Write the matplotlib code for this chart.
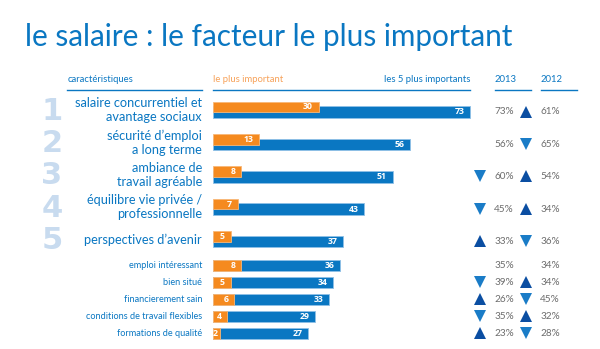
import numpy as np
import matplotlib
matplotlib.use('Agg')
import matplotlib.pyplot as plt

plt.rcParams['font.family'] = ['Lato', 'DejaVu Sans']

# data
labels_top = ['salaire concurrentiel et\navantage sociaux', 'sécurité d\u2019emploi\na long terme',
              'ambiance de\ntravail agréable', 'équilibre vie privée /\nprofessionnelle',
              'perspectives d\u2019avenir']
labels_small = ['emploi intéressant', 'bien situé', 'financierement sain',
                'conditions de travail flexibles', 'formations de qualité']
top1 = [30, 13, 8, 7, 5, 8, 5, 6, 4, 2]
top5 = [73, 56, 51, 43, 37, 36, 34, 33, 29, 27]
pct_2013 = [73, 56, 60, 45, 33, 35, 39, 26, 35, 23]
pct_2012 = [61, 65, 54, 34, 36, 34, 34, 45, 32, 28]
trend_rank = [0, 0, -1, -1, 1, 0, -1, 1, -1, 1]
trend_pct = [1, -1, 1, 1, -1, 0, 1, -1, 1, -1]

BLUE = '#0a77c2'
ORANGE = '#f58a1f'
UP = '#0b4ea2'
DOWN = '#1a7cc7'
W, H = 600, 349
BOLD = ['Open Sans', 'DejaVu Sans']

fig = plt.figure(figsize=(6, 3.49), dpi=100)
ax = fig.add_axes([0, 0, 1, 1])
ax.set_xlim(0, W)
ax.set_ylim(H, 0)
ax.axis('off')

# bar axes: x in data units, y in pixel rows
x0 = 213
px_per_unit = (470 - x0) / 73
bx = fig.add_axes([x0 / W, 0, (W - x0) / W, 1])
bx.set_xlim(0, (W - x0) / px_per_unit)
bx.set_ylim(H, 0)
bx.axis('off')

row_y = [112 + 32.4 * i for i in range(5)] + [265.5 + 17 * i for i in range(5)]

ax.text(25, 37, 'le salaire : le facteur le plus important', fontsize=21.4,
        color=BLUE, va='center', ha='left')

# header
hy = 80
ax.text(68, hy, 'caractéristiques', fontsize=6.8, color=BLUE, va='center')
ax.text(213, hy, 'le plus important', fontsize=6.8, color='#f7a25a', va='center')
ax.text(470, hy, 'les 5 plus importants', fontsize=6.8, color=BLUE, va='center', ha='right')
ax.text(495, hy, '2013', fontsize=6.8, color=BLUE, va='center')
ax.text(541, hy, '2012', fontsize=6.8, color=BLUE, va='center')
for a, b in [(67, 202), (213, 470), (495, 531), (541, 577)]:
    ax.plot([a, b], [89.5, 89.5], color=BLUE, lw=1)

for i in range(10):
    y = row_y[i]
    if i < 5:
        bx.barh(y, top5[i], height=11.5, left=0, color=BLUE, edgecolor='#8fc0e6', lw=0.6)
        bx.barh(y - 5.1, top1[i], height=10.6, left=0, color=ORANGE, edgecolor='#f8b878', lw=0.6)
        oy = y - 5.1
        ax.text(202, y - 2, labels_top[i], fontsize=9.2, color=BLUE, ha='right', va='center',
                linespacing=1.2)
        ax.text(52, y - 1, str(i + 1), fontsize=22, fontweight='bold', color='#c8dbef',
                ha='center', va='center', family=['DejaVu Sans'])
    else:
        bx.barh(y, top5[i], height=11, left=0, color=BLUE, edgecolor='#8fc0e6', lw=0.6)
        bx.barh(y, top1[i], height=11, left=0, color=ORANGE, edgecolor='#f8b878', lw=0.6)
        oy = y
        ax.text(202, y, labels_small[i - 5], fontsize=6.6, color=BLUE, ha='right', va='center')
    bx.annotate(str(top5[i]), (top5[i], y), xytext=(-4, 0), textcoords='offset points',
                ha='right', va='center', fontsize=6.3, fontweight='bold', color='white',
                family=BOLD)
    pad = -4 if top1[i] >= 4 else -2
    bx.annotate(str(top1[i]), (top1[i], oy), xytext=(pad, 0), textcoords='offset points',
                ha='right', va='center', fontsize=6.3, fontweight='bold', color='white',
                family=BOLD)

    ax.text(504, y, f'{pct_2013[i]}%', fontsize=7.2, color='#6d6d6d', ha='center', va='center')
    ax.text(550, y, f'{pct_2012[i]}%', fontsize=7.2, color='#6d6d6d', ha='center', va='center')
    for xc, t in [(480, trend_rank[i]), (526, trend_pct[i])]:
        if t > 0:
            ax.plot(xc, y - 0.5, marker='^', ms=8.5, color=UP, mew=0)
        elif t < 0:
            ax.plot(xc, y - 0.5, marker='v', ms=8.5, color=DOWN, mew=0)

fig.savefig('out.png', dpi=100)
